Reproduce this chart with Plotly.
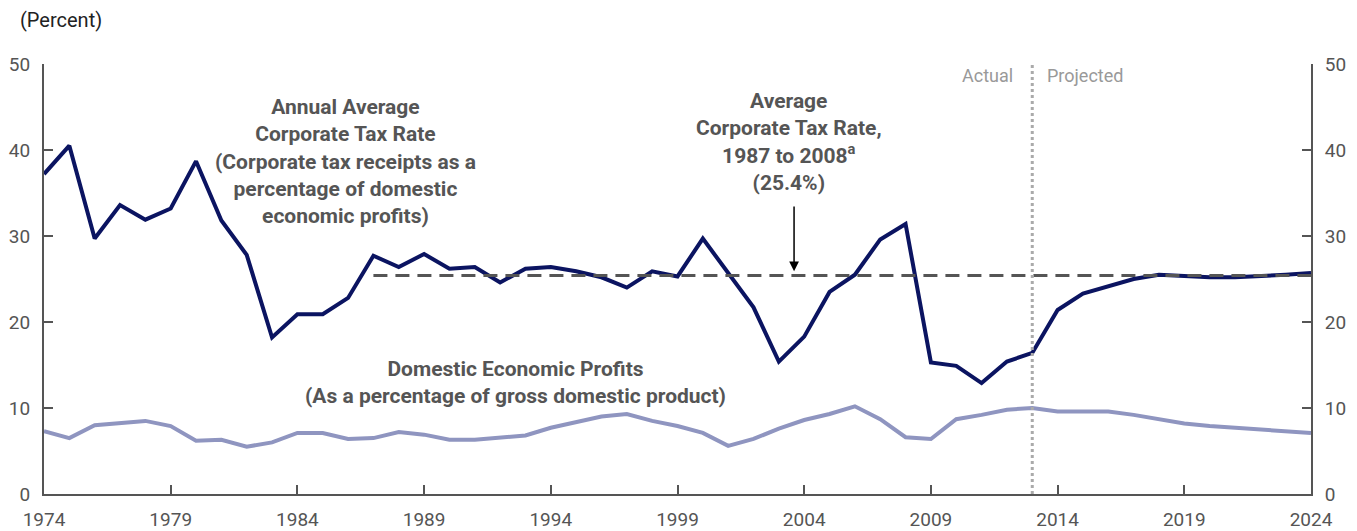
import plotly.graph_objects as go

# ── Data ──────────────────────────────────────────
years = list(range(1974, 2025))

tax_rate = [
    37.2, 40.5, 29.7, 33.6, 31.9, 33.2, 38.7, 31.8, 27.8, 18.2,
    20.9, 20.9, 22.8, 27.7, 26.4, 27.9, 26.2, 26.4, 24.6, 26.2,
    26.4, 25.9, 25.2, 24.0, 25.9, 25.3, 29.7, 25.7, 21.7, 15.4,
    18.3, 23.5, 25.5, 29.6, 31.4, 15.3, 14.9, 12.9, 15.4, 16.4,
    21.4, 23.3, 24.2, 25.0, 25.5, 25.3, 25.2, 25.2, 25.3, 25.5,
    25.7,
]

profits = [
    7.3, 6.5, 8.0, 8.3, 8.5, 7.9, 6.2, 6.3, 5.5, 6.0,
    7.1, 7.1, 6.4, 6.5, 7.2, 6.9, 6.3, 6.3, 6.5, 6.8,
    7.7, 8.4, 9.0, 9.3, 8.5, 7.9, 7.1, 5.6, 6.4, 7.6,
    8.6, 9.3, 10.2, 8.7, 6.6, 6.4, 8.7, 9.2, 9.8, 10.0,
    9.6, 9.6, 9.6, 9.2, 8.7, 8.2, 7.9, 7.7, 7.5, 7.4,
    7.1,
]

avg_years = [1987, 2024]
avg_rate = 25.4
split_year = 2013
x_ticks = list(range(1974, 2025, 5))
y_ticks = [0, 10, 20, 30, 40, 50]

FONT = "Roboto, sans-serif"
GREY_TXT = '#555555'

fig = go.Figure()

# Profits line (light), drawn on right axis that mirrors left
fig.add_trace(go.Scatter(
    x=years, y=profits, mode='lines', yaxis='y2',
    line=dict(color='#8f95c0', width=4), showlegend=False
))
# Tax rate line (dark navy)
fig.add_trace(go.Scatter(
    x=years, y=tax_rate, mode='lines',
    line=dict(color='#0b1461', width=4), showlegend=False
))
# Average 1987-2008 dashed reference
fig.add_trace(go.Scatter(
    x=avg_years, y=[avg_rate, avg_rate], mode='lines',
    line=dict(color='#555555', width=3, dash='14px,8px'), showlegend=False
))

# Actual / projected divider
fig.add_vline(x=split_year, line_color='#aaaaaa', line_width=3, line_dash='dot')

ann_font = dict(family=FONT, size=21, color=GREY_TXT)
fig.add_annotation(
    text="<b>Annual Average<br>Corporate Tax Rate<br>(Corporate tax receipts as a<br>"
         "percentage of domestic<br>economic profits)</b>",
    x=1985.9, y=38.7, showarrow=False, font=ann_font, align='center'
)
fig.add_annotation(
    text="<b>Average<br>Corporate Tax Rate,<br>1987 to 2008<sup>a</sup><br>(25.4%)</b>",
    x=2003.4, y=40.9, showarrow=False, font=ann_font, align='center'
)
fig.add_annotation(
    x=2003.6, y=25.9, ax=2003.6, ay=33.6, axref='x', ayref='y',
    text='', showarrow=True, arrowhead=2, arrowsize=1.3,
    arrowwidth=1.5, arrowcolor='#000000'
)
fig.add_annotation(
    text="<b>Domestic Economic Profits<br>(As a percentage of gross domestic product)</b>",
    x=1992.6, y=13.0, showarrow=False, font=ann_font, align='center'
)
fig.add_annotation(
    text="Actual", x=2012.3, y=48.7, xanchor='right', showarrow=False,
    font=dict(family=FONT, size=18, color='#999999')
)
fig.add_annotation(
    text="Projected", x=2013.5, y=48.7, xanchor='left', showarrow=False,
    font=dict(family=FONT, size=18, color='#999999')
)
fig.add_annotation(
    text="(Percent)", xref='paper', yref='paper', x=-0.0205, y=1.102,
    xanchor='left', yanchor='middle', showarrow=False,
    font=dict(family=FONT, size=20, color='#222222')
)

axis_style = dict(
    showgrid=False, zeroline=False, showline=True, automargin=False,
    linecolor='#555555', linewidth=2,
    ticks='inside', ticklen=9, tickwidth=1.5, tickcolor='#555555',
    tickfont=dict(family=FONT, size=19, color=GREY_TXT),
)

# page body has an 8px margin, so the figure is shrunk/shifted to match
fig.update_layout(
    width=1349, height=523,
    paper_bgcolor='white', plot_bgcolor='white',
    margin=dict(l=36, r=46, t=56, b=37),
    xaxis=dict(range=[1974, 2024], tickvals=x_ticks,
               ticklabelstandoff=7, **axis_style),
    yaxis=dict(range=[0, 50], tickvals=y_ticks,
               ticklabelstandoff=8, **axis_style),
    yaxis2=dict(range=[0, 50], tickvals=y_ticks, overlaying='y',
                side='right', ticklabelstandoff=8, **axis_style),
)

fig.write_html("out.html")
